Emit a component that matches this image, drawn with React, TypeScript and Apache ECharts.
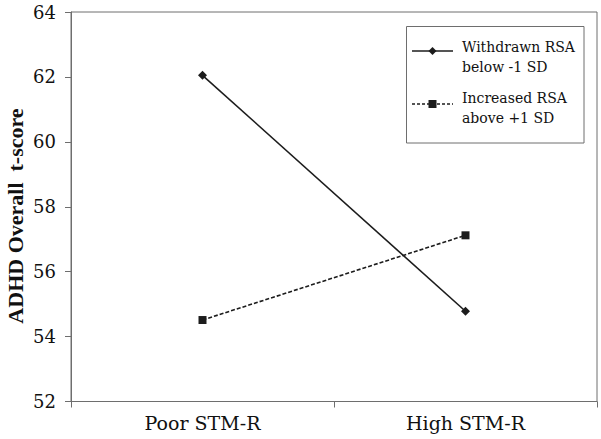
import React, { useEffect, useRef } from "react";
import * as echarts from "echarts";

const categories = ["Poor STM-R", "High STM-R"];
const withdrawnValues = [62.05, 54.78];
const increasedValues = [54.51, 57.12];
const seriesNames = ["Withdrawn RSA\nbelow -1 SD", "Increased RSA\nabove +1 SD"];
const yAxisTitle = "ADHD Overall  t-score";
const yMin = 52;
const yMax = 64;
const yStep = 2;

const FONT = "DejaVu Serif";
const TITLE_FONT = "Liberation Serif";
const AXIS_GRAY = "#6e6e6e";
const INK = "#1c1c1c";

export default function App() {
  const ref = useRef<HTMLDivElement>(null);

  useEffect(() => {
    if (!ref.current) return;
    const chart = echarts.init(ref.current, undefined, { renderer: "svg" });

    const legendX = 406.5;
    const legendY = 26.5;
    const legendW = 177.5;
    const legendH = 116.5;

    chart.setOption({
      animation: false,
      backgroundColor: "#ffffff",
      grid: {
        left: 71,
        right: 4,
        top: 12,
        bottom: 37.5,
        show: true,
        borderColor: AXIS_GRAY,
        borderWidth: 1,
        backgroundColor: "transparent",
      },
      xAxis: {
        type: "category",
        data: categories,
        boundaryGap: true,
        axisLine: { lineStyle: { color: AXIS_GRAY, width: 1 } },
        axisTick: { show: true, length: 6, lineStyle: { color: AXIS_GRAY } },
        axisLabel: {
          color: "#111",
          fontFamily: FONT,
          fontSize: 19,
          margin: 12,
        },
        splitLine: { show: false },
      },
      yAxis: {
        type: "value",
        min: yMin,
        max: yMax,
        interval: yStep,
        axisLine: { show: true, lineStyle: { color: AXIS_GRAY, width: 1 } },
        axisTick: { show: true, length: 6, lineStyle: { color: AXIS_GRAY } },
        axisLabel: {
          color: "#111",
          fontFamily: FONT,
          fontSize: 18,
          margin: 15,
        },
        splitLine: { show: false },
      },
      series: [
        {
          name: seriesNames[0],
          type: "line",
          data: withdrawnValues,
          symbol: "diamond",
          symbolSize: 9,
          itemStyle: { color: INK },
          lineStyle: { color: INK, width: 1.6, type: "solid" },
        },
        {
          name: seriesNames[1],
          type: "line",
          data: increasedValues,
          symbol: "rect",
          symbolSize: 8,
          itemStyle: { color: INK },
          lineStyle: { color: INK, width: 1.6, type: [4, 2] },
        },
      ],
      graphic: [
        {
          type: "text",
          x: 15,
          y: 216,
          rotation: Math.PI / 2,
          style: {
            text: yAxisTitle,
            fontFamily: TITLE_FONT,
            fontWeight: "bold",
            fontSize: 22,
            fill: "#111",
            align: "center",
            verticalAlign: "middle",
          },
        },
        {
          type: "rect",
          shape: { x: legendX, y: legendY, width: legendW, height: legendH },
          style: { fill: "#fff", stroke: AXIS_GRAY, lineWidth: 1 },
        },
        {
          type: "line",
          shape: { x1: 412, y1: 51, x2: 453, y2: 51 },
          style: { stroke: INK, lineWidth: 1.6 },
        },
        {
          type: "polygon",
          shape: { points: [[432.5, 47], [436.5, 51], [432.5, 55], [428.5, 51]] },
          style: { fill: INK },
        },
        {
          type: "text",
          x: 462,
          y: 56.7,
          style: {
            text: seriesNames[0],
            fontFamily: FONT,
            fontSize: 14,
            lineHeight: 20,
            fill: "#111",
            align: "left",
            verticalAlign: "middle",
          },
        },
        {
          type: "line",
          shape: { x1: 412, y1: 104, x2: 453, y2: 104 },
          style: { stroke: INK, lineWidth: 1.4, lineDash: [3, 2] },
        },
        {
          type: "rect",
          shape: { x: 428.5, y: 100, width: 8, height: 8 },
          style: { fill: INK },
        },
        {
          type: "text",
          x: 462,
          y: 108.3,
          style: {
            text: seriesNames[1],
            fontFamily: FONT,
            fontSize: 14,
            lineHeight: 20,
            fill: "#111",
            align: "left",
            verticalAlign: "middle",
          },
        },
      ],
    });

    return () => chart.dispose();
  }, []);

  return (
    <div
      ref={ref}
      style={{ position: "fixed", left: 0, top: 0, width: 601, height: 439, background: "#fff" }}
    />
  );
}
